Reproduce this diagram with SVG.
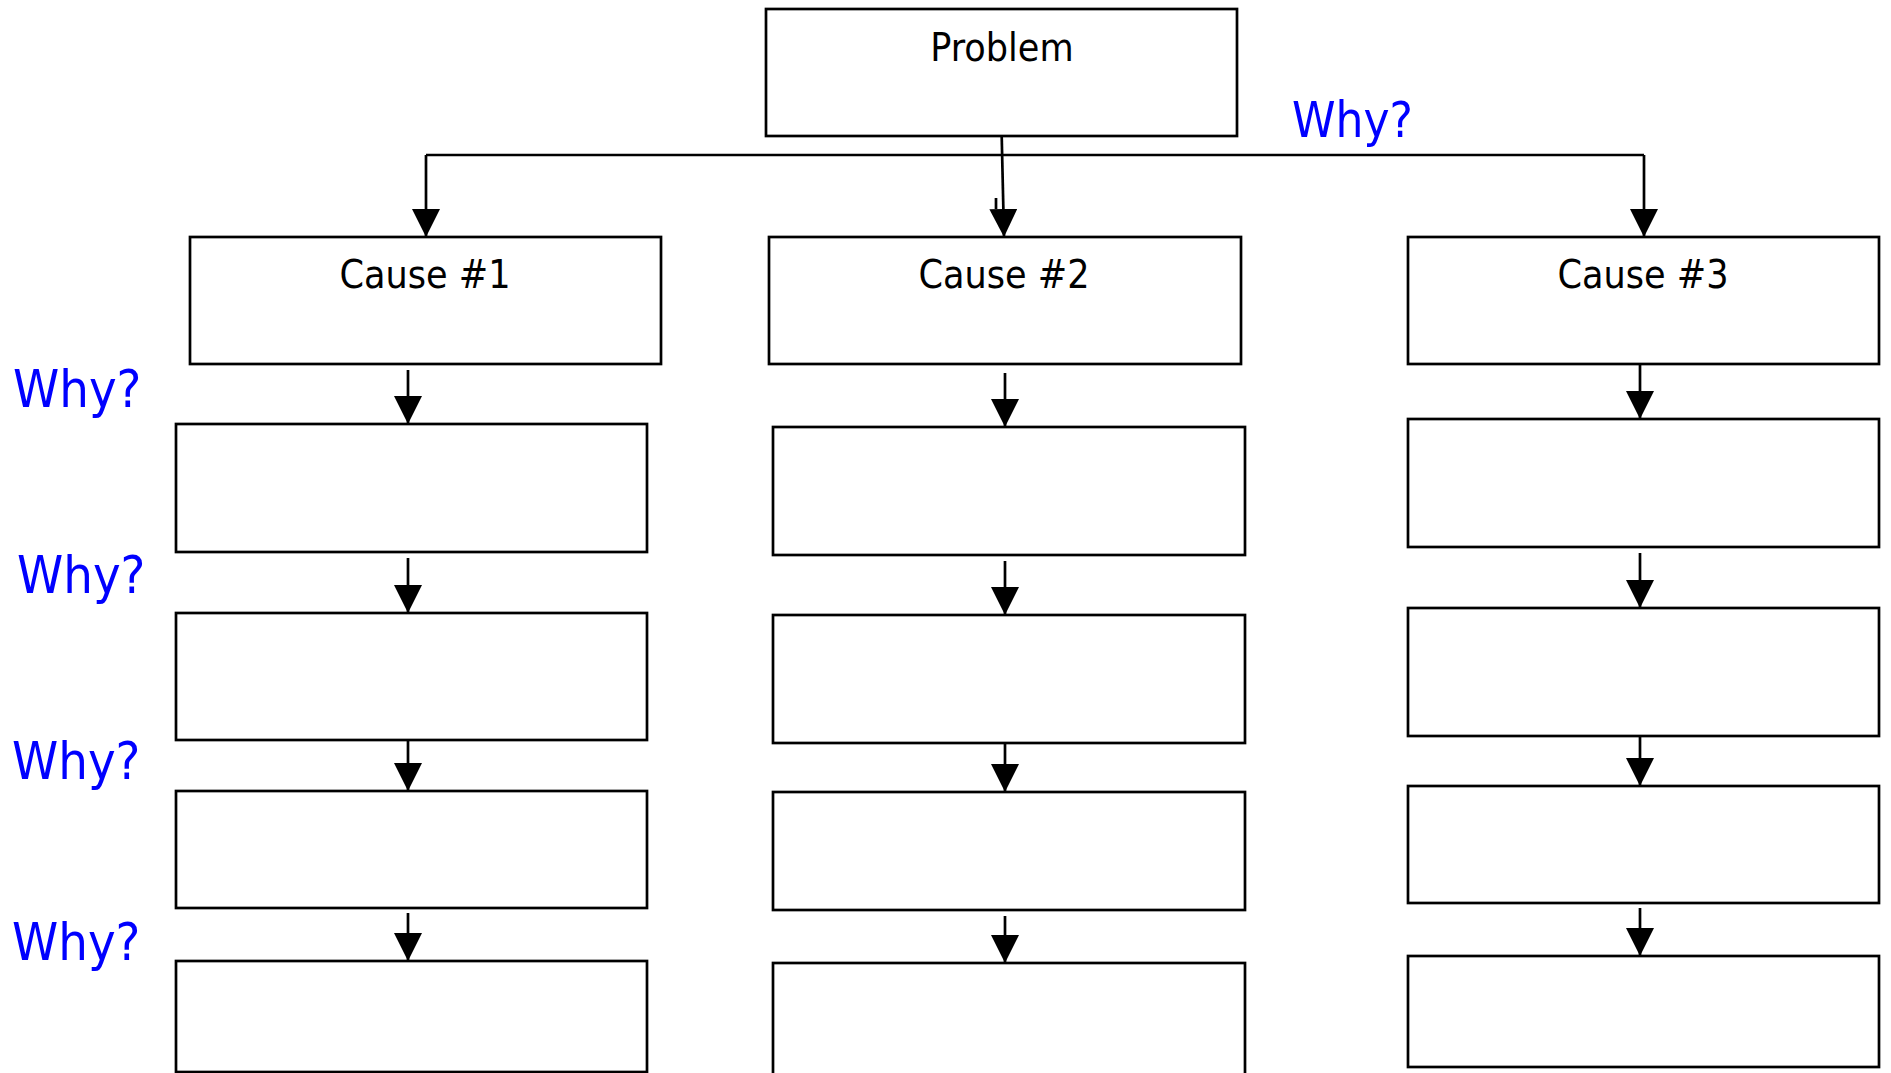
<svg xmlns="http://www.w3.org/2000/svg" width="1891" height="1073" viewBox="0 0 1891 1073">
  <defs>
    <marker id="arrow" markerUnits="userSpaceOnUse" markerWidth="28" markerHeight="28" viewBox="0 0 27 27" refX="27" refY="13.5" orient="auto">
      <path d="M0,0 L27,13.5 L0,27 z" fill="#000"/>
    </marker>
    <style>
      .box { fill: #fff; stroke: #000; stroke-width: 2.7; }
      .lbl { font-family: "DejaVu Sans Condensed", "DejaVu Sans", sans-serif; font-stretch: condensed; font-size: 39px; fill: #000; text-anchor: middle; }
      .why { font-family: "DejaVu Sans Condensed", "DejaVu Sans", sans-serif; font-stretch: condensed; font-size: 52px; fill: #0000ff; }
      .conn { fill: none; stroke: #000; stroke-width: 2.7; }
      .arr { marker-end: url(#arrow); }
    </style>
  </defs>
  <rect width="1891" height="1073" fill="#fff"/>

  <g id="problem">
    <rect class="box" x="766" y="9" width="471" height="127"/>
    <text class="lbl" x="1002" y="61">Problem</text>
  </g>

  <g id="cause1">
    <rect class="box" x="190" y="237" width="471" height="127"/>
    <text class="lbl" x="425" y="288">Cause #1</text>
  </g>
  <g id="cause2">
    <rect class="box" x="769" y="237" width="472" height="127"/>
    <text class="lbl" x="1004" y="288">Cause #2</text>
  </g>
  <g id="cause3">
    <rect class="box" x="1408" y="237" width="471" height="127"/>
    <text class="lbl" x="1643" y="288">Cause #3</text>
  </g>

  <g id="c1a"><rect class="box" x="176" y="424" width="471" height="128"/></g>
  <g id="c1b"><rect class="box" x="176" y="613" width="471" height="127"/></g>
  <g id="c1c"><rect class="box" x="176" y="791" width="471" height="117"/></g>
  <g id="c1d"><rect class="box" x="176" y="961" width="471" height="111"/></g>

  <g id="c2a"><rect class="box" x="773" y="427" width="472" height="128"/></g>
  <g id="c2b"><rect class="box" x="773" y="615" width="472" height="128"/></g>
  <g id="c2c"><rect class="box" x="773" y="792" width="472" height="118"/></g>
  <g id="c2d"><rect class="box" x="773" y="963" width="472" height="120"/></g>

  <g id="c3a"><rect class="box" x="1408" y="419" width="471" height="128"/></g>
  <g id="c3b"><rect class="box" x="1408" y="608" width="471" height="128"/></g>
  <g id="c3c"><rect class="box" x="1408" y="786" width="471" height="117"/></g>
  <g id="c3d"><rect class="box" x="1408" y="956" width="471" height="111"/></g>

  <g id="connectors">
    <path class="conn arr" d="M426,155 L426,237"/>
    <path class="conn" d="M426,155 L1644,155"/>
    <path class="conn arr" d="M1644,155 L1644,237"/>
    <path class="conn arr" d="M1001.7,136 L1004,237"/>
    <path class="conn" d="M996,198 L996,209" stroke-width="1.5"/>

    <path class="conn arr" d="M408,370 L408,424"/>
    <path class="conn arr" d="M408,558 L408,613"/>
    <path class="conn arr" d="M408,740 L408,791"/>
    <path class="conn arr" d="M408,913 L408,961"/>

    <path class="conn arr" d="M1005,373 L1005,427"/>
    <path class="conn arr" d="M1005,561 L1005,615"/>
    <path class="conn arr" d="M1005,743 L1005,792"/>
    <path class="conn arr" d="M1005,916 L1005,963"/>

    <path class="conn arr" d="M1640,364 L1640,419"/>
    <path class="conn arr" d="M1640,553 L1640,608"/>
    <path class="conn arr" d="M1640,736 L1640,786"/>
    <path class="conn arr" d="M1640,908 L1640,956"/>
  </g>

  <g id="why-labels">
    <text class="why" x="1292" y="137" style="font-size:49px">Why?</text>
    <text class="why" x="13" y="407">Why?</text>
    <text class="why" x="17" y="593">Why?</text>
    <text class="why" x="12" y="779">Why?</text>
    <text class="why" x="12" y="960">Why?</text>
  </g>
</svg>
